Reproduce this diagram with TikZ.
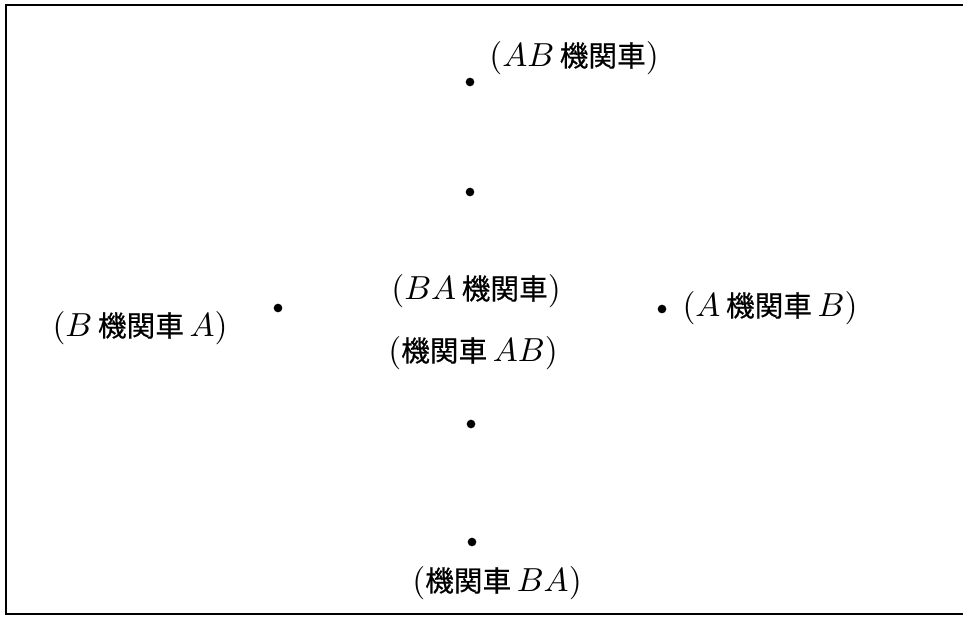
\documentclass[tikz,border=0pt]{standalone}
\usepackage{fontspec}
\newfontfamily\cjk[Scale=0.86,FakeBold=0.5]{Noto Sans CJK JP}
\begin{document}
\begin{tikzpicture}[x=0.3pt,y=-0.3pt,
  dot/.style={circle,fill=black,inner sep=0pt,minimum size=2.6pt},
  lbl/.style={inner sep=0pt,font=\fontsize{10}{12}\selectfont}]
\useasboundingbox (0,0) rectangle (963,616);
\draw[line width=0.6pt] (963,5) -- (6,5) -- (6,614) -- (963,614);
\node[dot] (d1) at (470,82) {};
\node[dot] (d2) at (470,192) {};
\node[dot] (d3) at (278,308) {};
\node[dot] (d4) at (662,309) {};
\node[dot] (d5) at (471,424) {};
\node[dot] (d6) at (472,542) {};
\node[lbl] (l1) at (574,58) {($AB$\,{\cjk 機関車})};
\node[lbl] (l2) at (476,291) {($BA$\,{\cjk 機関車})};
\node[lbl] (l3) at (473,353) {({\cjk 機関車}\,$AB$)};
\node[lbl] (l4) at (140,328) {($B$\,{\cjk 機関車}\,$A$)};
\node[lbl] (l5) at (770,308) {($A$\,{\cjk 機関車}\,$B$)};
\node[lbl] (l6) at (497,583) {({\cjk 機関車}\,$BA$)};
\end{tikzpicture}
\end{document}
